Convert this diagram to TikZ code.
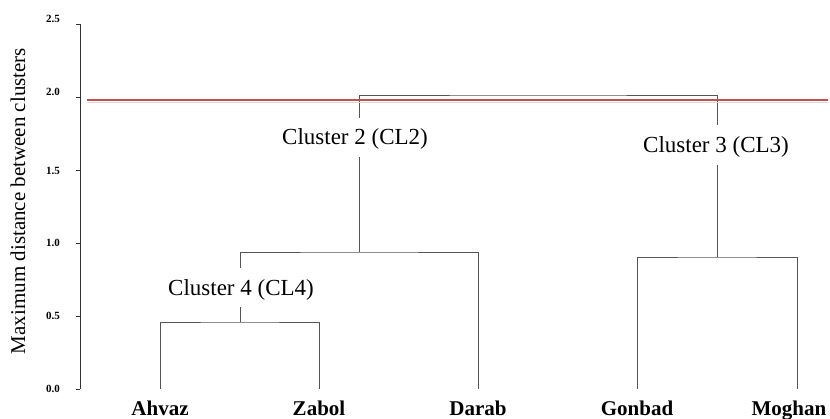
\documentclass[tikz,border=0pt]{standalone}
\usepackage{fontspec}
\setmainfont{Liberation Serif}
\definecolor{redline}{HTML}{C0504D}
\definecolor{dgray}{HTML}{555555}
\begin{document}
\begin{tikzpicture}[x=1pt,y=-1pt,
  dend/.style={draw=dgray,line width=0.9pt},
  axisline/.style={draw=black!80,line width=0.8pt},
  ticklab/.style={font=\fontsize{11}{11}\selectfont\bfseries,inner sep=0pt},
  leaflab/.style={font=\fontsize{21}{21}\selectfont\bfseries,inner sep=0pt,anchor=base},
  clulab/.style={font=\fontsize{23}{23}\selectfont,inner sep=0pt},
  axtitle/.style={font=\fontsize{21}{21}\selectfont,rotate=90,inner sep=0pt}]
\useasboundingbox (0,0) rectangle (830,419);
% axis
\coordinate (atop) at (80,24);
\coordinate (abot) at (80,389);
\draw[axisline] (atop) -- (abot);
\foreach \yy in {24,97,170,243,316,389} {\draw[axisline] (76,\yy) -- (80,\yy);}
\node[ticklab] (t25) at (53,19) {2.5};
\node[ticklab] (t20) at (53,92) {2.0};
\node[ticklab] (t15) at (53,171) {1.5};
\node[ticklab] (t10) at (53,243) {1.0};
\node[ticklab] (t05) at (53,316) {0.5};
\node[ticklab] (t00) at (53,389) {0.0};
\node[axtitle] (ytitle) at (18,201) {Maximum distance between clusters};
% leaves
\coordinate (Ahvaz) at (160,389);
\coordinate (Zabol) at (319,389);
\coordinate (Darab) at (478,389);
\coordinate (Gonbad) at (637,389);
\coordinate (Moghan) at (797,389);
\node[leaflab] (lAhvaz) at (160,415) {Ahvaz};
\node[leaflab] (lZabol) at (319,415) {Zabol};
\node[leaflab] (lDarab) at (478,415) {Darab};
\node[leaflab] (lGonbad) at (637,415) {Gonbad};
\node[leaflab] (lMoghan) at (789,415) {Moghan};
% merge points
\coordinate (m1) at (240,322);
\coordinate (m2) at (359,252);
\coordinate (m3) at (717,257);
\coordinate (m4) at (538,95);
% cluster 4
\draw[dend] (Ahvaz) |- (m1) -| (Zabol);
\node[clulab] (c4) at (241,290) {Cluster 4 (CL4)};
\coordinate (s1a) at (240,307);
\coordinate (s1b) at (240,268);
\draw[dend] (m1) -- (s1a);
\draw[dend] (s1b) |- (m2) -| (Darab);
% cluster 3
\draw[dend] (Gonbad) |- (m3) -| (Moghan);
\node[clulab] (c3) at (716,147) {Cluster 3 (CL3)};
\coordinate (s3a) at (717,165);
\coordinate (s3b) at (717,125);
\draw[dend] (m3) -- (s3a);
% cluster 2
\node[clulab] (c2) at (355,139) {Cluster 2 (CL2)};
\coordinate (s2a) at (359,157);
\coordinate (s2b) at (359,118);
\draw[dend] (m2) -- (s2a);
\draw[dend] (s2b) |- (m4) -| (s3b);
% red cut line
\coordinate (r1) at (87,100);
\coordinate (r2) at (828,100);
\draw[black!15,line width=1.6pt] ([yshift=-2.5pt]r1) -- ([yshift=-2.5pt]r2);
\draw[redline,line width=2.6pt] (r1) -- (r2);
\end{tikzpicture}
\end{document}
